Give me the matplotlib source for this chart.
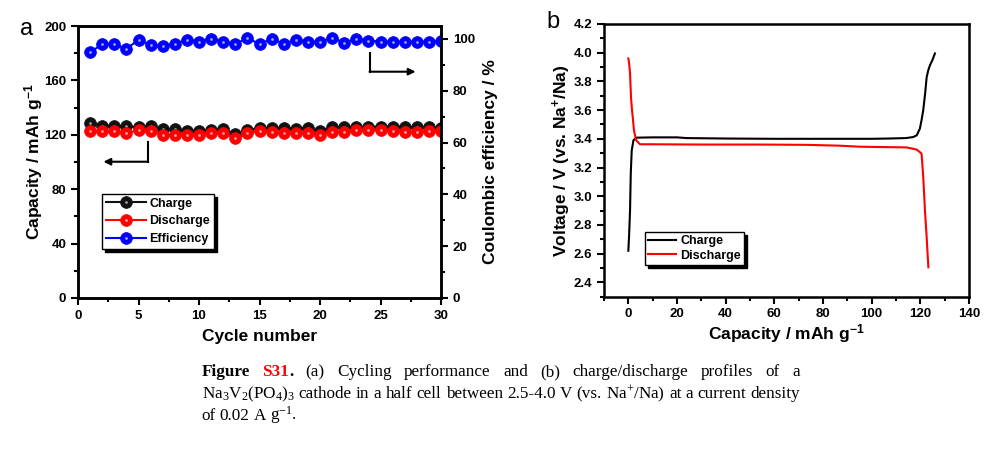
import matplotlib
matplotlib.use("Agg")
import matplotlib.pyplot as plt
from matplotlib.ticker import MultipleLocator
from matplotlib.legend_handler import HandlerTuple

plt.rcParams['font.family'] = ['Liberation Sans', 'DejaVu Sans']
plt.rcParams['mathtext.default'] = 'regular'

# (a) datos de ciclado
ciclos = list(range(1, 31))
carga = [128.8, 126.8, 126.5, 126.3, 125.5, 126.3, 124.5, 124.0, 123.0, 123.0,
         123.5, 124.0, 120.5, 123.5, 125.0, 125.0, 125.0, 124.5, 125.0, 122.5,
         125.5, 125.5, 125.5, 126.0, 126.0, 126.0, 126.0, 125.5, 125.5, 125.0]
descarga = [122.8, 122.8, 122.8, 121.0, 123.5, 122.8, 120.0, 120.0, 120.0, 120.0,
            121.0, 121.5, 117.4, 121.0, 122.8, 122.3, 121.0, 121.0, 121.0, 120.0,
            122.3, 122.3, 123.5, 123.5, 123.5, 122.8, 122.3, 122.3, 122.8, 122.8]
eficiencia = [94.8, 98.0, 98.0, 96.1, 99.7, 97.7, 97.4, 98.0, 99.7, 99.0,
              100.0, 99.0, 98.0, 100.4, 98.0, 100.0, 98.2, 99.6, 99.0, 99.0,
              100.4, 98.6, 100.0, 99.4, 99.0, 99.0, 99.0, 99.0, 99.0, 99.2]

# (b) curvas de carga/descarga
cap_carga = [0, 0.3, 0.7, 1.0, 1.4, 2.1, 3.4, 10, 20, 24, 40, 60, 80, 100, 107,
             114, 117, 118.5, 119.8, 120.5, 121.2, 122.0, 122.6, 123.3, 124.0,
             125.0, 126.0]
v_carga = [2.62, 2.72, 2.90, 3.16, 3.32, 3.39, 3.408, 3.41, 3.41, 3.405, 3.402,
           3.40, 3.40, 3.40, 3.402, 3.405, 3.412, 3.424, 3.47, 3.53, 3.60, 3.72,
           3.83, 3.88, 3.914, 3.95, 3.995]
cap_desc = [0, 0.3, 0.7, 1.1, 1.5, 1.8, 2.3, 3.2, 4.8, 10, 30, 54, 73, 87, 95,
            114.4, 118.5, 120.5, 121.2, 121.9, 122.6, 123.3]
v_desc = [3.96, 3.93, 3.856, 3.69, 3.60, 3.553, 3.46, 3.39, 3.362, 3.362, 3.36,
          3.36, 3.358, 3.352, 3.345, 3.34, 3.325, 3.297, 3.134, 2.90, 2.715, 2.505]

fig = plt.figure(figsize=(10, 4.5), dpi=100)

def estilo_ejes(ax):
    for s in ax.spines.values():
        s.set_linewidth(1.8)
    ax.tick_params(which='both', direction='out', width=1.5, labelsize=9.5)
    ax.tick_params(which='major', length=5)
    ax.tick_params(which='minor', length=3)
    for lab in ax.get_xticklabels() + ax.get_yticklabels():
        lab.set_fontweight('bold')

def esfera(ax, x, y, color, brillo):
    linea, = ax.plot(x, y, '-', color=color, lw=1.5, marker='o', ms=8.5,
                     mfc=color, mec=color, mew=0.5)
    punto, = ax.plot(x, y, 'none', marker='o', ms=2.0, mfc=brillo, mec='none')
    return (linea, punto)

# ---- panel a
ax = fig.add_axes([0.078, 0.3378, 0.363, 0.6044])
ax2 = ax.twinx()
h_c = esfera(ax, ciclos, carga, '#111111', '#9a9a9a')
h_d = esfera(ax, ciclos, descarga, '#ff0000', '#ffa0a0')
h_e = esfera(ax2, ciclos, eficiencia, '#0000ff', '#a0a0ff')

ax.set_xlim(0, 30)
ax.set_ylim(0, 200)
ax2.set_ylim(0, 105)
ax.xaxis.set_major_locator(MultipleLocator(5))
ax.xaxis.set_minor_locator(MultipleLocator(2.5))
ax.yaxis.set_major_locator(MultipleLocator(40))
ax.yaxis.set_minor_locator(MultipleLocator(20))
ax2.yaxis.set_major_locator(MultipleLocator(20))
ax2.yaxis.set_minor_locator(MultipleLocator(10))
estilo_ejes(ax)
estilo_ejes(ax2)
ax.set_xlabel('Cycle number', fontsize=12.5, fontweight='bold', labelpad=5)
ax.set_ylabel('Capacity / mAh g$^{-1}$', fontsize=12.5, fontweight='bold', labelpad=-1)
ax2.set_ylabel('Coulombic efficiency / %', fontsize=12.5, fontweight='bold', labelpad=5.5)

# flechas
ax.plot([24.1, 24.1], [180, 166.4], color='black', lw=1.5)
ax.annotate('', xy=(27.9, 166.4), xytext=(24.1, 166.4),
            arrowprops=dict(arrowstyle='-|>', color='black', lw=1.5,
                            mutation_scale=10, shrinkA=0, shrinkB=0))
ax.plot([5.8, 5.8], [115, 100.2], color='black', lw=1.5)
ax.annotate('', xy=(2.1, 100.2), xytext=(5.8, 100.2),
            arrowprops=dict(arrowstyle='-|>', color='black', lw=1.5,
                            mutation_scale=10, shrinkA=0, shrinkB=0))

leg = ax2.legend([h_c, h_d, h_e], ['Charge', 'Discharge', 'Efficiency'],
                 handler_map={tuple: HandlerTuple(ndivide=1)},
                 loc='upper left', bbox_to_anchor=(0.066, 0.382),
                 prop={'weight': 'bold', 'size': 9}, frameon=True, fancybox=False,
                 shadow={'color': 'black', 'alpha': 1}, edgecolor='black',
                 handlelength=3.2, handletextpad=0.3, borderpad=0.3,
                 labelspacing=0.45, borderaxespad=0, numpoints=1)
leg.get_frame().set_linewidth(1.0)

fig.text(0.027, 0.935, 'a', fontsize=17, va='center', ha='center')

# ---- panel b
bx = fig.add_axes([0.604, 0.3407, 0.365, 0.606])
bx.plot(cap_carga, v_carga, color='black', lw=1.5, label='Charge')
bx.plot(cap_desc, v_desc, color='#ff0000', lw=1.5, label='Discharge')
bx.set_xlim(-10, 140)
bx.set_ylim(2.3, 4.2)
bx.xaxis.set_major_locator(MultipleLocator(20))
bx.xaxis.set_minor_locator(MultipleLocator(10))
bx.yaxis.set_minor_locator(MultipleLocator(0.1))
bx.set_yticks([2.4, 2.6, 2.8, 3.0, 3.2, 3.4, 3.6, 3.8, 4.0, 4.2])
bx.set_yticklabels(['2.4', '2.6', '2.8', '3.0', '3.2', '3.4', '3.6', '3.8', '4.0', '4.2'])
estilo_ejes(bx)
bx.set_xlabel('Capacity / mAh g$^{-1}$', fontsize=12.5, fontweight='bold', labelpad=1.5)
bx.set_ylabel('Voltage / V (vs. Na$^{+}$/Na)', fontsize=12.5, fontweight='bold', labelpad=0)
leg_b = bx.legend(loc='upper left', bbox_to_anchor=(0.112, 0.237),
                  prop={'weight': 'bold', 'size': 9}, frameon=True, fancybox=False,
                  shadow={'color': 'black', 'alpha': 1}, edgecolor='black',
                  handlelength=2.2, handletextpad=0.4, borderpad=0.25,
                  labelspacing=0.2, borderaxespad=0)
leg_b.get_frame().set_linewidth(1.0)

fig.text(0.553, 0.95, 'b', fontsize=17, va='center', ha='center')

# ---- pie de figura (texto justificado)
serif = dict(family='Liberation Serif', fontsize=12.3)
lineas = [
    ([[('Figure', {'fontweight': 'bold'})],
      [('S31', {'fontweight': 'bold', 'color': '#ff0000'}), ('.', {'fontweight': 'bold'})],
      [('(a)', {})], [('Cycling', {})], [('performance', {})], [('and', {})],
      [('(b)', {})], [('charge/discharge', {})], [('profiles', {})], [('of', {})],
      [('a', {})]], True, 376.5),
    ([[('Na$_{3}$V$_{2}$(PO$_{4}$)$_{3}$', {})], [('cathode', {})], [('in', {})],
      [('a', {})], [('half', {})], [('cell', {})], [('between', {})], [('2.5-4.0', {})],
      [('V', {})], [('(vs.', {})], [('Na$^{+}$/Na)', {})], [('at', {})], [('a', {})],
      [('current', {})], [('density', {})]], True, 398.3),
    ([[('of', {})], [('0.02', {})], [('A', {})], [('g$^{-1}$.', {})]], False, 420.0),
]

renderer = fig.canvas.get_renderer()
W, H = 1000.0, 450.0
x0, x1 = 201.5, 800.0
for palabras, justificar, yb in lineas:
    grupos = []
    for palabra in palabras:
        piezas = []
        for s, kw in palabra:
            t = fig.text(0, 1 - yb / H, s, va='baseline', ha='left', **serif, **kw)
            piezas.append((t, t.get_window_extent(renderer).width))
        grupos.append(piezas)
    anchos = [sum(w for _, w in g) for g in grupos]
    if justificar:
        hueco = (x1 - x0 - sum(anchos)) / (len(grupos) - 1)
    else:
        hueco = 4.0
    x = x0
    for g, a in zip(grupos, anchos):
        xx = x
        for t, w in g:
            t.set_x(xx / W)
            xx += w
        x += a + hueco

fig.savefig('out.png', dpi=100)
